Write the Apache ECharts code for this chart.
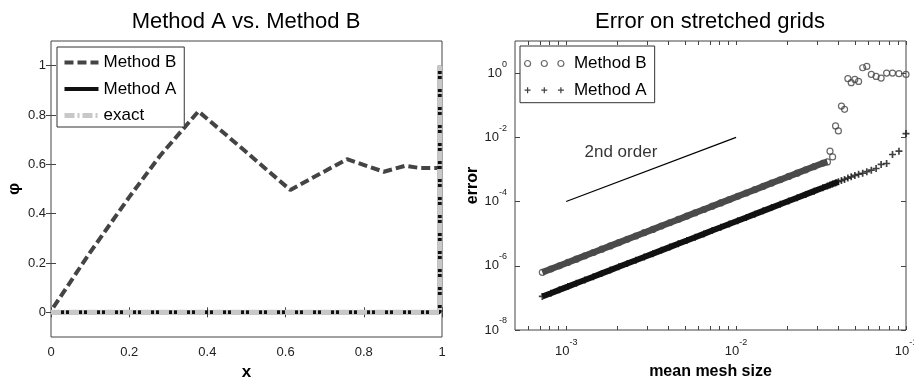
<!DOCTYPE html>
<html><head><meta charset="utf-8">
<script src="https://cdn.jsdelivr.net/npm/echarts@6/dist/echarts.min.js"></script>
<style>html,body{margin:0;padding:0;background:#fff}#c{width:914px;height:379px}</style>
</head><body><div id="c"></div>
<script>
// ---------- Left panel: solution profiles ----------
const profileXB = [0.006, 0.1, 0.2, 0.279, 0.377, 0.5, 0.612, 0.757, 0.851, 0.906, 0.944, 0.99];
const profileYB = [0.02, 0.243, 0.467, 0.635, 0.815, 0.649, 0.496, 0.621, 0.57, 0.594, 0.585, 0.585];
const profileXA = [0, 0.994, 0.994];
const profileYA = [0, 0, 1];
const profileXExact = [0, 0.994, 0.994];
const profileYExact = [0, 0, 1];
const leftXTicks = [0, 0.2, 0.4, 0.6, 0.8, 1];
const leftYTicks = [0, 0.2, 0.4, 0.6, 0.8, 1];

// ---------- Right panel: error vs mean mesh size ----------
const meshSize = [0.1, 0.0909, 0.0833, 0.0769, 0.0714, 0.0667, 0.0625, 0.0588, 0.0556, 0.0526,
  0.05, 0.0476, 0.0455, 0.0435, 0.0417, 0.04, 0.0385, 0.037, 0.0357, 0.0345,
  0.0324, 0.0288, 0.0257, 0.0229, 0.0204, 0.0182, 0.0162, 0.01445, 0.01288, 0.01148,
  0.01023, 0.00912, 0.00813, 0.00724, 0.00646, 0.00575, 0.00513, 0.00457, 0.00407, 0.00363,
  0.00324, 0.00288, 0.00257, 0.00229, 0.00204, 0.00182, 0.00162, 0.001445, 0.001288, 0.001148,
  0.001023, 0.000912, 0.000813, 0.000724];
const errorB = [0.91, 0.96, 1.0, 1.0, 0.70, 0.79, 0.91, 1.61, 1.47, 0.552,
  0.637, 0.503, 0.67, 0.0746, 0.0944, 0.0158, 0.0226, 2.46e-3, 3.7e-3, 1.72e-3,
  1.56e-3, 1.23e-3, 9.73e-4, 7.67e-4, 6.05e-4, 4.78e-4, 3.77e-4, 2.97e-4, 2.34e-4, 1.85e-4,
  1.46e-4, 1.15e-4, 9.08e-5, 7.16e-5, 5.65e-5, 4.46e-5, 3.52e-5, 2.77e-5, 2.19e-5, 1.73e-5,
  1.36e-5, 1.07e-5, 8.47e-6, 6.68e-6, 5.27e-6, 4.16e-6, 3.28e-6, 2.59e-6, 2.04e-6, 1.61e-6,
  1.27e-6, 1.0e-6, 7.91e-7, 6.24e-7];
const errorA = [0.0131, 3.7e-3, 2.92e-3, 1.53e-3, 1.43e-3, 1.07e-3, 9.5e-4, 8.5e-4, 7.6e-4, 7.1e-4,
  6.5e-4, 5.9e-4, 5.4e-4, 4.9e-4, 4.5e-4, 4.13e-4, 3.81e-4, 3.54e-4, 3.28e-4, 3.05e-4,
  2.68e-4, 2.11e-4, 1.67e-4, 1.32e-4, 1.04e-4, 8.22e-5, 6.49e-5, 5.13e-5, 4.05e-5, 3.2e-5,
  2.53e-5, 2.0e-5, 1.58e-5, 1.25e-5, 9.83e-6, 7.76e-6, 6.13e-6, 4.84e-6, 3.82e-6, 3.02e-6,
  2.39e-6, 1.88e-6, 1.49e-6, 1.18e-6, 9.28e-7, 7.33e-7, 5.79e-7, 4.57e-7, 3.61e-7, 2.85e-7,
  2.25e-7, 1.78e-7, 1.4e-7, 1.11e-7];
const refLineX = [1e-3, 1e-2];
const refLineY = [1e-4, 1e-2];
const refLabel = '2nd order';
const refLabelX = 2.1e-3;
const refLabelY = 3.3e-3;
const rightXLabels = [1e-3, 1e-2, 1e-1];
const rightXTicks = [6e-4, 7e-4, 8e-4, 9e-4, 1e-3, 2e-3, 3e-3, 4e-3, 5e-3, 6e-3, 7e-3, 8e-3, 9e-3,
  1e-2, 2e-2, 3e-2, 4e-2, 5e-2, 6e-2, 7e-2, 8e-2, 9e-2, 1e-1];
const rightYTicks = [1e-8, 1e-6, 1e-4, 1e-2, 1];

const FONT = "'Liberation Sans', Arial, Helvetica, sans-serif";
const zip = (xs, ys) => xs.map((x, i) => [x, ys[i]]);
const denseStartB = 19, denseStartA = 15;

const chart = echarts.init(document.getElementById('c'), null, {renderer: 'canvas'});

const supFormatter = v => '{b|10}{e|' + Math.round(Math.log10(v)) + '}';
const supRich = {
  b: {fontSize: 13, color: '#222', fontFamily: FONT, verticalAlign: 'middle'},
  e: {fontSize: 9, color: '#222', fontFamily: FONT, padding: [0, 0, 18, 0], verticalAlign: 'middle'}
};
const tickStyle = {color: '#444', width: 1};
const crossPath = 'path://M-0.6,-2.5h1.2v1.9h1.9v1.2h-1.9v1.9h-1.2v-1.9h-1.9v-1.2h1.9z';
const ringsIcon = 'path://M0,3a3,3 0 1,0 6,0a3,3 0 1,0 -6,0Z' +
  'M16.7,3a3,3 0 1,0 6,0a3,3 0 1,0 -6,0Z' +
  'M33.3,3a3,3 0 1,0 6,0a3,3 0 1,0 -6,0Z';
const crossesIcon = 'path://M2.4,0h1.2v2.4h2.4v1.2h-2.4v2.4h-1.2v-2.4h-2.4v-1.2h2.4z' +
  'M19.1,0h1.2v2.4h2.4v1.2h-2.4v2.4h-1.2v-2.4h-2.4v-1.2h2.4z' +
  'M35.7,0h1.2v2.4h2.4v1.2h-2.4v2.4h-1.2v-2.4h-2.4v-1.2h2.4z';

const option = {
  animation: false,
  backgroundColor: '#fff',
  textStyle: {fontFamily: FONT},
  title: [
    {text: 'Method A vs. Method B', left: 246, top: 11, padding: 0, textAlign: 'center',
     textStyle: {fontSize: 22, fontWeight: 'normal', color: '#000', fontFamily: FONT}},
    {text: 'Error on stretched grids', left: 710, top: 11, padding: 0, textAlign: 'center',
     textStyle: {fontSize: 22, fontWeight: 'normal', color: '#000', fontFamily: FONT}}
  ],
  grid: [
    {left: 51, top: 41, width: 391, height: 296, show: true, borderColor: '#444', borderWidth: 1, outerBoundsMode: 'none', containLabel: false},
    {left: 515, top: 41, width: 391, height: 289, show: true, borderColor: '#444', borderWidth: 1, outerBoundsMode: 'none', containLabel: false}
  ],
  legend: [
    {left: 57, top: 47, orient: 'vertical', padding: [7, 8, 3, 5], itemGap: 9.5, itemWidth: 34, itemHeight: 8,
     borderColor: '#333', borderWidth: 1, backgroundColor: '#fff', selectedMode: false,
     textStyle: {fontSize: 17, color: '#000', fontFamily: FONT},
     data: [
       {name: 'Method B', lineStyle: {width: 4, color: '#444', type: [9, 4]}, itemStyle: {opacity: 0}},
       {name: 'Method A', lineStyle: {width: 4, color: '#111', type: 'solid'}, itemStyle: {opacity: 0}},
       {name: 'exact', lineStyle: {width: 5, color: '#c8c8c8', type: [10, 3, 2, 3]}, itemStyle: {opacity: 0}}
     ]},
    {left: 520, top: 46, orient: 'vertical', padding: [9, 8, 4, 4], itemGap: 9.7, itemWidth: 39.3, itemHeight: 6,
     borderColor: '#333', borderWidth: 1, backgroundColor: '#fff', selectedMode: false,
     textStyle: {fontSize: 17, color: '#000', fontFamily: FONT, padding: [0, 0, 0, 5]},
     formatter: n => n.replace(' (err)', ''),
     data: [
       {name: 'Method B (err)', icon: ringsIcon, itemStyle: {color: 'rgba(0,0,0,0)', borderColor: '#444', borderWidth: 1.2}},
       {name: 'Method A (err)', icon: crossesIcon, itemStyle: {color: '#111', borderWidth: 0}}
     ]}
  ],
  xAxis: [
    {gridIndex: 0, type: 'value', min: 0, max: 1, interval: 0.2, position: 'bottom',
     name: 'x', nameLocation: 'middle', nameGap: 26,
     nameTextStyle: {fontSize: 17, fontWeight: 'bold', color: '#000', fontFamily: FONT},
     axisLine: {show: false}, axisTick: {inside: true, length: 5, lineStyle: tickStyle, customValues: leftXTicks},
     axisLabel: {fontSize: 13, color: '#222', margin: 9, fontFamily: FONT, customValues: leftXTicks},
     splitLine: {show: false}},
    {gridIndex: 0, type: 'value', min: 0, max: 1, interval: 0.2, position: 'top',
     axisLine: {show: false}, axisTick: {inside: true, length: 5, lineStyle: tickStyle, customValues: leftXTicks},
     axisLabel: {show: false}, splitLine: {show: false}},
    {gridIndex: 1, type: 'log', logBase: 10, min: 5e-4, max: 0.1, position: 'bottom',
     name: 'mean mesh size', nameLocation: 'middle', nameGap: 34,
     nameTextStyle: {fontSize: 16, fontWeight: 'bold', color: '#000', fontFamily: FONT},
     axisLine: {show: false}, axisTick: {inside: true, length: 4, lineStyle: tickStyle, customValues: rightXTicks},
     axisLabel: {customValues: rightXLabels, formatter: supFormatter, rich: supRich, margin: 8},
     splitLine: {show: false}, minorTick: {show: false}},
    {gridIndex: 1, type: 'log', logBase: 10, min: 5e-4, max: 0.1, position: 'top',
     axisLine: {show: false}, axisTick: {inside: true, length: 4, lineStyle: tickStyle, customValues: rightXTicks},
     axisLabel: {show: false}, splitLine: {show: false}}
  ],
  yAxis: [
    {gridIndex: 0, type: 'value', min: -0.1, max: 1.1, position: 'left',
     name: 'φ', nameLocation: 'middle', nameGap: 28,
     nameTextStyle: {fontSize: 17, fontWeight: 'bold', color: '#000', fontFamily: FONT},
     axisLine: {show: false}, axisTick: {inside: true, length: 5, lineStyle: tickStyle, customValues: leftYTicks},
     axisLabel: {fontSize: 13, color: '#222', margin: 5, fontFamily: FONT, customValues: leftYTicks},
     splitLine: {show: false}},
    {gridIndex: 0, type: 'value', min: -0.1, max: 1.1, position: 'right',
     axisLine: {show: false}, axisTick: {inside: true, length: 5, lineStyle: tickStyle, customValues: leftYTicks},
     axisLabel: {show: false}, splitLine: {show: false}},
    {gridIndex: 1, type: 'log', logBase: 10, min: 1e-8, max: 10, position: 'left',
     name: 'error', nameLocation: 'middle', nameGap: 34,
     nameTextStyle: {fontSize: 16, fontWeight: 'bold', color: '#000', fontFamily: FONT},
     axisLine: {show: false}, axisTick: {inside: true, length: 5, lineStyle: tickStyle, customValues: rightYTicks},
     axisLabel: {customValues: rightYTicks, formatter: supFormatter, rich: supRich, margin: 8},
     splitLine: {show: false}},
    {gridIndex: 1, type: 'log', logBase: 10, min: 1e-8, max: 10, position: 'right',
     axisLine: {show: false}, axisTick: {inside: true, length: 5, lineStyle: tickStyle, customValues: rightYTicks},
     axisLabel: {show: false}, splitLine: {show: false}}
  ],
  series: [
    {name: 'Method B', type: 'line', xAxisIndex: 0, yAxisIndex: 0, data: zip(profileXB, profileYB),
     symbol: 'none', lineStyle: {width: 4, color: '#444', type: [9, 4]}, itemStyle: {color: '#444'},
     emphasis: {disabled: true}, silent: true},
    {name: 'Method A', type: 'line', xAxisIndex: 0, yAxisIndex: 0, data: zip(profileXA, profileYA),
     symbol: 'none', lineStyle: {width: 4, color: '#111'}, itemStyle: {color: '#111'},
     emphasis: {disabled: true}, silent: true},
    {name: 'exact', type: 'line', xAxisIndex: 0, yAxisIndex: 0, data: zip(profileXExact, profileYExact),
     symbol: 'none', lineStyle: {width: 5, color: '#c8c8c8', type: [10, 3, 2, 3]}, itemStyle: {color: '#c8c8c8'},
     emphasis: {disabled: true}, silent: true},

    {name: 'bandB', type: 'line', xAxisIndex: 2, yAxisIndex: 2,
     data: zip(meshSize, errorB).slice(denseStartB), symbol: 'none',
     lineStyle: {width: 6.5, color: '#4a4a4a'}, emphasis: {disabled: true}, silent: true},
    {name: 'Method B (err)', type: 'scatter', xAxisIndex: 2, yAxisIndex: 2, data: zip(meshSize, errorB),
     symbol: 'circle', symbolSize: 6,
     itemStyle: {color: 'rgba(0,0,0,0)', borderColor: '#444', borderWidth: 1.2},
     emphasis: {disabled: true}, silent: true},
    {name: 'bandA', type: 'line', xAxisIndex: 2, yAxisIndex: 2,
     data: zip(meshSize, errorA).slice(denseStartA), symbol: 'none',
     lineStyle: {width: 6, color: '#111'}, emphasis: {disabled: true}, silent: true},
    {name: 'Method A (err)', type: 'scatter', xAxisIndex: 2, yAxisIndex: 2, data: zip(meshSize, errorA),
     symbol: crossPath, symbolSize: 7, itemStyle: {color: '#111'},
     emphasis: {disabled: true}, silent: true},
    {name: 'ref', type: 'line', xAxisIndex: 2, yAxisIndex: 2, data: zip(refLineX, refLineY),
     symbol: 'none', lineStyle: {width: 1.2, color: '#000'}, emphasis: {disabled: true}, silent: true},
    {name: 'refLabel', type: 'scatter', xAxisIndex: 2, yAxisIndex: 2, data: [[refLabelX, refLabelY]],
     symbolSize: 1, itemStyle: {color: 'rgba(0,0,0,0)'},
     label: {show: true, position: 'inside', formatter: refLabel, fontSize: 17, color: '#000', fontFamily: FONT},
     emphasis: {disabled: true}, silent: true}
  ]
};
chart.setOption(option);
</script>
</body></html>
